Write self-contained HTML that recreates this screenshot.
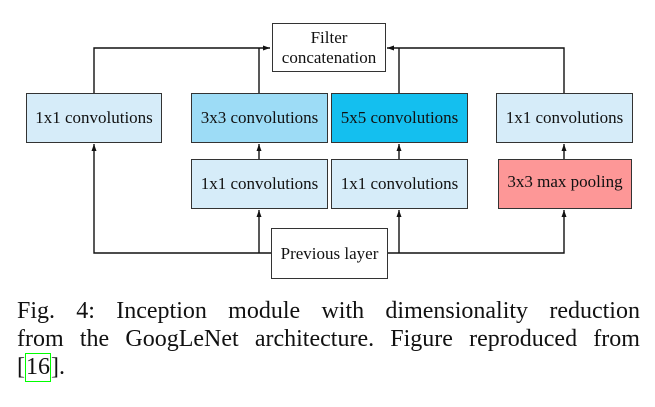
<!DOCTYPE html>
<html><head><style>
body{margin:0;width:655px;height:407px;background:#fff;position:relative;overflow:hidden;font-family:"Liberation Serif",serif}
.b{position:absolute;box-sizing:border-box;border:1px solid #333;display:flex;align-items:center;justify-content:center;text-align:center;font-size:17px;line-height:20px;color:#111;white-space:nowrap}
.cap{position:absolute;left:17px;width:623px;font-size:24px;line-height:28px;color:#111;white-space:nowrap;display:flex;justify-content:space-between}
</style></head><body>
<svg width="655" height="290" style="position:absolute;left:0;top:0">
<defs><marker id="a" markerWidth="8" markerHeight="8" refX="7" refY="4" orient="auto" markerUnits="userSpaceOnUse"><path d="M0,1.5 L7,4 L0,6.5 Z" fill="#111"/></marker></defs>
<g stroke="#111" stroke-width="1.4" fill="none">
<path d="M94,93 V48 H270" marker-end="url(#a)"/>
<path d="M259,93 V48"/>
<path d="M564,93 V48 H387" marker-end="url(#a)"/>
<path d="M399,93 V48"/>
<path d="M259,159 V144" marker-end="url(#a)"/>
<path d="M399,159 V144" marker-end="url(#a)"/>
<path d="M564,159 V144" marker-end="url(#a)"/>
<path d="M271,253 H94 V144" marker-end="url(#a)"/>
<path d="M259,253 V210" marker-end="url(#a)"/>
<path d="M399,253 V210" marker-end="url(#a)"/>
<path d="M387,253 H564 V210" marker-end="url(#a)"/>
</g></svg>
<div class="b" style="left:272px;top:23px;width:114px;height:49px;background:#fff">Filter<br>concatenation</div>
<div class="b" style="left:26px;top:93px;width:136px;height:50px;background:#d6ecf9">1x1 convolutions</div>
<div class="b" style="left:191px;top:93px;width:137px;height:50px;background:#9ddcf6">3x3 convolutions</div>
<div class="b" style="left:331px;top:93px;width:137px;height:50px;background:#14bfef">5x5 convolutions</div>
<div class="b" style="left:496px;top:93px;width:137px;height:50px;background:#d6ecf9">1x1 convolutions</div>
<div class="b" style="left:191px;top:159px;width:137px;height:50px;background:#d6ecf9">1x1 convolutions</div>
<div class="b" style="left:331px;top:159px;width:137px;height:50px;background:#d6ecf9">1x1 convolutions</div>
<div class="b" style="left:498px;top:159px;width:134px;height:50px;background:#fd9797;padding-bottom:4px">3x3 max pooling</div>
<div class="b" style="left:271px;top:228px;width:117px;height:51px;background:#fff">Previous layer</div>
<div class="cap" style="top:297px"><span>Fig.</span><span>4:</span><span>Inception</span><span>module</span><span>with</span><span>dimensionality</span><span>reduction</span></div>
<div class="cap" style="top:325px"><span>from</span><span>the</span><span>GoogLeNet</span><span>architecture.</span><span>Figure</span><span>reproduced</span><span>from</span></div>
<div class="cap" style="top:353px;width:auto">[<span style="display:inline-block;border:1.5px solid #0f0;padding:0;line-height:27px">16</span>].</div>
</body></html>
